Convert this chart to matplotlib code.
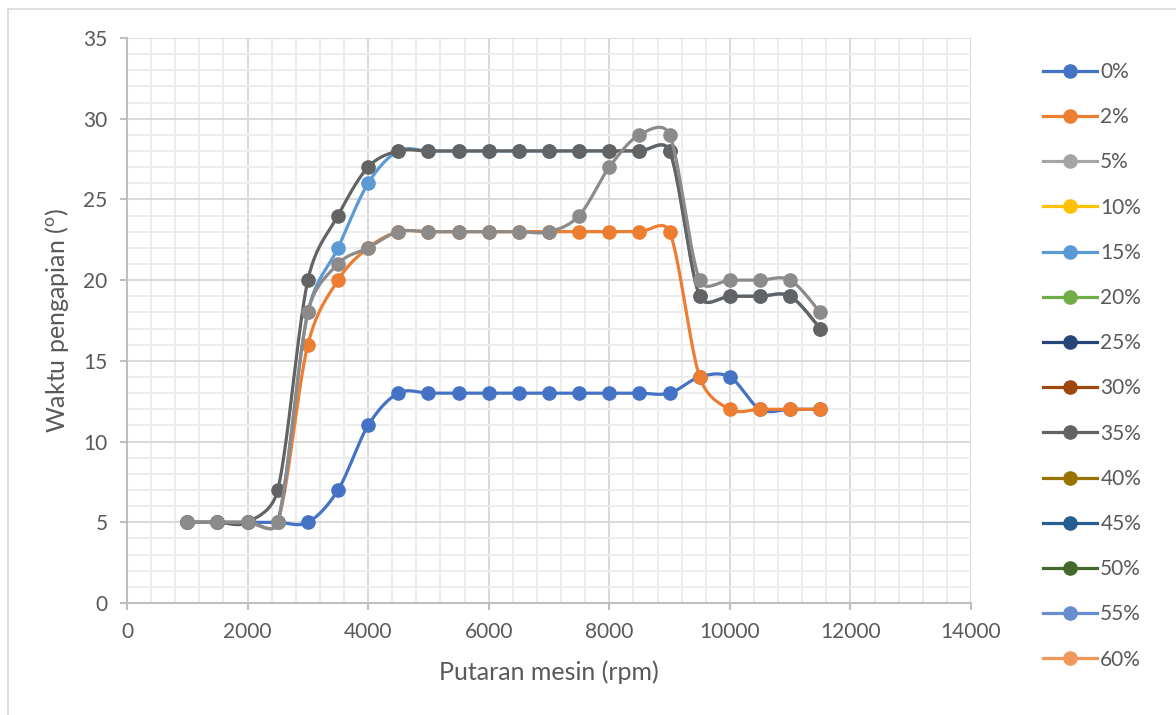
import numpy as np
import matplotlib
matplotlib.use("Agg")
import matplotlib.pyplot as plt
from matplotlib.lines import Line2D
from matplotlib.ticker import MultipleLocator

plt.rcParams['font.family'] = ['Lato', 'DejaVu Sans']
plt.rcParams['mathtext.fontset'] = 'custom'
plt.rcParams['mathtext.rm'] = 'Lato'

# --- data ---
rpm = [1000, 1500, 2000, 2500, 3000, 3500, 4000, 4500, 5000, 5500, 6000,
       6500, 7000, 7500, 8000, 8500, 9000, 9500, 10000, 10500, 11000, 11500]

labels = ["0%", "2%", "5%", "10%", "15%", "20%", "25%",
          "30%", "35%", "40%", "45%", "50%", "55%", "60%"]

s0 = [5, 5, 5, 5, 5, 7, 11, 13, 13, 13, 13, 13, 13, 13, 13, 13, 13, 14, 14, 12, 12, 12]
s2 = [5, 5, 5, 5, 16, 20, 22, 23, 23, 23, 23, 23, 23, 23, 23, 23, 23, 14, 12, 12, 12, 12]
s5 = [5, 5, 5, 5, 18, 21, 22, 23, 23, 23, 23, 23, 23, 24, 27, 29, 29, 20, 20, 20, 20, 18]
s15 = [5, 5, 5, 5, 18, 22, 26, 28, 28, 28, 28, 28, 28, 28, 28, 28, 28, 19, 19, 19, 19, 17]
s35 = [5, 5, 5, 7, 20, 24, 27, 28, 28, 28, 28, 28, 28, 28, 28, 28, 28, 19, 19, 19, 19, 17]

# series that are listed in the legend but show no line of their own
values = {"0%": s0, "2%": s2, "5%": s5, "15%": s15, "35%": s35}

colors = ["#4472C4", "#ED7D31", "#A5A5A5", "#FFC000", "#5B9BD5", "#70AD47", "#264478",
          "#9E480E", "#636363", "#997300", "#255E91", "#43682B", "#698ED0", "#F1975A"]
draw_color = {"5%": "#8d8b89"}
draw_order = ["0%", "2%", "15%", "35%", "5%"]

# --- figure ---
W, H = 1176, 715
fig = plt.figure(figsize=(W / 100, H / 100), dpi=100)
ax_l, ax_r, ax_t, ax_b = 127, 971, 38, 603
ax = fig.add_axes([ax_l / W, 1 - ax_b / H, (ax_r - ax_l) / W, (ax_b - ax_t) / H])

xmax, ymax = 14000, 35
sx = (ax_r - ax_l) / xmax
sy = (ax_b - ax_t) / ymax


def excel_smooth(xs, ys, n=40):
    # Bezier smoothing like Excel's "smoothed line", done in pixel space
    P = np.column_stack([np.asarray(xs, float) * sx, np.asarray(ys, float) * sy])
    out = [P[:1]]
    t = np.linspace(0, 1, n)[1:, None]
    for i in range(len(P) - 1):
        p0 = P[i - 1] if i > 0 else P[i]
        p1, p2 = P[i], P[i + 1]
        p3 = P[i + 2] if i + 2 < len(P) else P[i + 1]
        d12 = np.hypot(*(p2 - p1))
        t1, t2 = p2 - p0, p3 - p1
        d02, d13 = np.hypot(*t1), np.hypot(*t2)
        c1 = p1 + t1 / d02 * min(d02 / 6, d12 / 2) if d02 > 0 else p1
        c2 = p2 - t2 / d13 * min(d13 / 6, d12 / 2) if d13 > 0 else p2
        seg = ((1 - t) ** 3) * p1 + 3 * ((1 - t) ** 2) * t * c1 + 3 * (1 - t) * t ** 2 * c2 + t ** 3 * p2
        out.append(seg)
    Q = np.vstack(out)
    return Q[:, 0] / sx, Q[:, 1] / sy


for z, lab in enumerate(draw_order):
    c = draw_color.get(lab, colors[labels.index(lab)])
    xs_s, ys_s = excel_smooth(rpm, values[lab])
    ax.plot(xs_s, ys_s, color=c, lw=2.3, zorder=3 + z, solid_capstyle='round')
    ax.plot(rpm, values[lab], 'o', ls='none', color=c, ms=9.5, zorder=3 + z)

handles = [Line2D([], [], color=c, lw=2.3, marker='o', ms=9.5) for c in colors]

ax.set_xlim(0, xmax)
ax.set_ylim(0, ymax)
ax.xaxis.set_major_locator(MultipleLocator(2000))
ax.xaxis.set_minor_locator(MultipleLocator(400))
ax.yaxis.set_major_locator(MultipleLocator(5))
ax.yaxis.set_minor_locator(MultipleLocator(1))
ax.grid(which='major', color='#d9d9d9', lw=1.4, zorder=0)
ax.grid(which='minor', color='#ededed', lw=1.4, zorder=0)
ax.set_axisbelow(True)

for s in ['top', 'right']:
    ax.spines[s].set_visible(False)
for s in ['left', 'bottom']:
    ax.spines[s].set_color('#bfbfbf')
    ax.spines[s].set_linewidth(1.5)

ax.tick_params(which='major', length=5, width=1.5, color='#bfbfbf',
               labelcolor='#595959', labelsize=15, pad=9)
ax.tick_params(which='minor', length=0)

ax.set_xlabel("Putaran mesin (rpm)", fontsize=18, color='#595959', labelpad=13)
ax.set_ylabel(r"Waktu pengapian ($^{\mathrm{o}}$)", fontsize=18, color='#595959', labelpad=9)

fig.legend(handles, labels, loc='upper left', bbox_to_anchor=(1043 / W, 1 - 62 / H),
           frameon=False, fontsize=15, labelcolor='#595959', handlelength=2.6,
           handletextpad=0.15, labelspacing=1.21, borderpad=0, borderaxespad=0)

# outer chart border (only top and left visible in the reference crop)
fig.add_artist(Line2D([8 / W, 1], [1 - 9 / H, 1 - 9 / H], color='#d9d9d9', lw=1.2))
fig.add_artist(Line2D([8 / W, 8 / W], [0, 1 - 9 / H], color='#d9d9d9', lw=1.2))

fig.savefig("out.png", dpi=100)
